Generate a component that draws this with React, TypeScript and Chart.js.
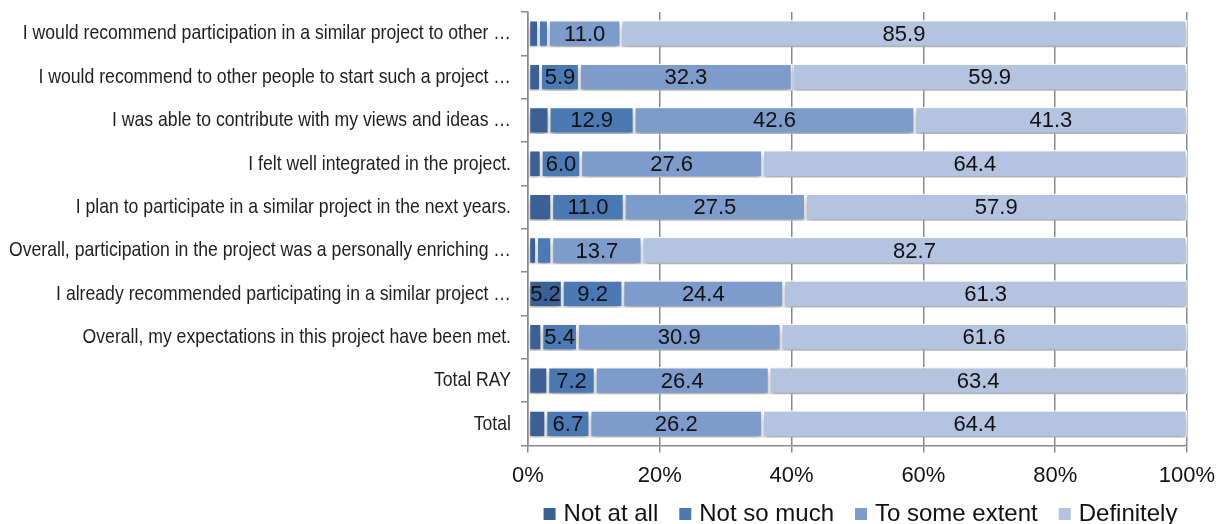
import React, { useEffect, useRef } from "react";
import { Chart, registerables } from "chart.js";

Chart.register(...registerables);

const categories = [
  "I would recommend participation in a similar project to other …",
  "I would recommend to other people to start such a project …",
  "I was able to contribute with my views and ideas …",
  "I felt well integrated in the project.",
  "I plan to participate in a similar project in the next years.",
  "Overall, participation in the project was a personally enriching …",
  "I already recommended participating in a similar project …",
  "Overall, my expectations in this project have been met.",
  "Total RAY",
  "Total",
];

const notAtAll = [1.6, 1.9, 3.2, 2.0, 3.6, 1.3, 5.2, 2.1, 3.0, 2.7];
const notSoMuch = [1.5, 5.9, 12.9, 6.0, 11.0, 2.3, 9.2, 5.4, 7.2, 6.7];
const toSomeExtent = [11.0, 32.3, 42.6, 27.6, 27.5, 13.7, 24.4, 30.9, 26.4, 26.2];
const definitely = [85.9, 59.9, 41.3, 64.4, 57.9, 82.7, 61.3, 61.6, 63.4, 64.4];

const seriesNames = ["Not at all", "Not so much", "To some extent", "Definitely"];
const seriesColors = ["#3A6095", "#4A79B4", "#7D9BCB", "#B3C3E0"];
const xTicks = [0, 20, 40, 60, 80, 100];

const FONT = "'Liberation Sans', Arial, sans-serif";

const shadowPlugin = {
  id: "barShadow",
  beforeDatasetsDraw(chart: any) {
    const ctx = chart.ctx;
    ctx.save();
    ctx.shadowColor = "rgba(0,0,0,0.35)";
    ctx.shadowBlur = 6;
    ctx.shadowOffsetY = 4;
  },
  afterDatasetsDraw(chart: any) {
    chart.ctx.restore();
  },
};

const labelPlugin = {
  id: "segLabels",
  afterDatasetsDraw(chart: any) {
    const ctx = chart.ctx;
    ctx.save();
    ctx.font = "22px " + FONT;
    ctx.fillStyle = "#111";
    ctx.textAlign = "center";
    ctx.textBaseline = "middle";
    chart.data.datasets.forEach((ds: any, i: number) => {
      const meta = chart.getDatasetMeta(i);
      meta.data.forEach((bar: any, j: number) => {
        const v = ds.data[j];
        if (v < 5) return;
        const p = bar.getProps(["x", "y", "base"], true);
        ctx.fillText(v.toFixed(1), (p.x + p.base) / 2, p.y + 1);
      });
    });
    ctx.restore();
  },
};

const catLabelPlugin = {
  id: "catLabels",
  afterDraw(chart: any) {
    const ctx = chart.ctx;
    const ys = chart.scales.y;
    ctx.save();
    ctx.font = "21px " + FONT;
    ctx.fillStyle = "#1e1e1e";
    ctx.textAlign = "right";
    ctx.textBaseline = "middle";
    chart.data.labels.forEach((lab: string, i: number) => {
      const y = ys.getPixelForTick(i);
      ctx.save();
      ctx.translate(511, y);
      ctx.scale(0.84, 1);
      ctx.fillText(lab, 0, 0);
      ctx.restore();
    });
    ctx.restore();
  },
};

const legendPlugin = {
  id: "customLegend",
  afterDraw(chart: any) {
    const ctx = chart.ctx;
    const area = chart.chartArea;
    ctx.save();
    ctx.font = "24px " + FONT;
    const box = 12;
    const gapBoxText = 8;
    const gapItems = 21;
    const items = chart.data.datasets.map((ds: any) => ({
      text: ds.label,
      color: ds.backgroundColor,
      w: ctx.measureText(ds.label).width,
    }));
    const total =
      items.reduce((s: number, it: any) => s + box + gapBoxText + it.w, 0) + gapItems * (items.length - 1);
    let x = (area.left + area.right) / 2 - total / 2 + 3;
    const y = 513;
    ctx.textBaseline = "middle";
    ctx.textAlign = "left";
    items.forEach((it: any) => {
      ctx.fillStyle = it.color;
      ctx.fillRect(x, y - 5, box, box);
      x += box + gapBoxText;
      ctx.fillStyle = "#111";
      ctx.fillText(it.text, x, y + 1);
      x += it.w + gapItems;
    });
    ctx.restore();
  },
};

export default function App() {
  const ref = useRef<HTMLCanvasElement>(null);
  useEffect(() => {
    if (!ref.current) return;
    const values = [notAtAll, notSoMuch, toSomeExtent, definitely];
    const chart = new Chart(ref.current, {
      type: "bar",
      data: {
        labels: categories,
        datasets: values.map((d, i) => ({
          label: seriesNames[i],
          data: d,
          backgroundColor: seriesColors[i],
          borderColor: "#ffffff",
          borderWidth: 1.5,
          borderSkipped: false,
          barPercentage: 0.63,
          categoryPercentage: 1,
        })),
      },
      options: {
        indexAxis: "y",
        animation: false,
        responsive: true,
        maintainAspectRatio: false,
        layout: { padding: { top: 12, right: 34, bottom: 25, left: 0 } },
        scales: {
          x: {
            stacked: true,
            min: 0,
            max: 100,
            afterBuildTicks: (scale: any) => {
              scale.ticks = xTicks.map((v) => ({ value: v }));
            },
            afterFit: (scale: any) => {
              scale.paddingRight = 0;
              scale.paddingLeft = 0;
            },
            ticks: {
              callback: (v: any) => v + "%",
              font: { family: FONT, size: 22 },
              color: "#111",
              padding: 10,
              maxRotation: 0,
            },
            grid: { color: "#8a8a8a", lineWidth: 1.5, tickLength: 7 },
            border: { color: "#8a8a8a", width: 1.5 },
          },
          y: {
            stacked: true,
            afterFit: (scale: any) => {
              scale.width = 528;
            },
            ticks: {
              font: { family: FONT, size: 2 },
              color: "rgba(0,0,0,0)",
              padding: 10,
              autoSkip: false,
            },
            grid: { drawOnChartArea: false, offset: true, tickLength: 7, color: "#8a8a8a", lineWidth: 1.5 },
            border: { color: "#8a8a8a", width: 1.5 },
          },
        },
        plugins: {
          legend: { display: false },
          tooltip: { enabled: false },
        },
      },
      plugins: [shadowPlugin, labelPlugin, catLabelPlugin, legendPlugin],
    } as any);
    return () => chart.destroy();
  }, []);
  return (
    <div style={{ position: "fixed", left: 0, top: 0, width: 1221, height: 524, background: "#fff" }}>
      <canvas ref={ref} />
    </div>
  );
}
